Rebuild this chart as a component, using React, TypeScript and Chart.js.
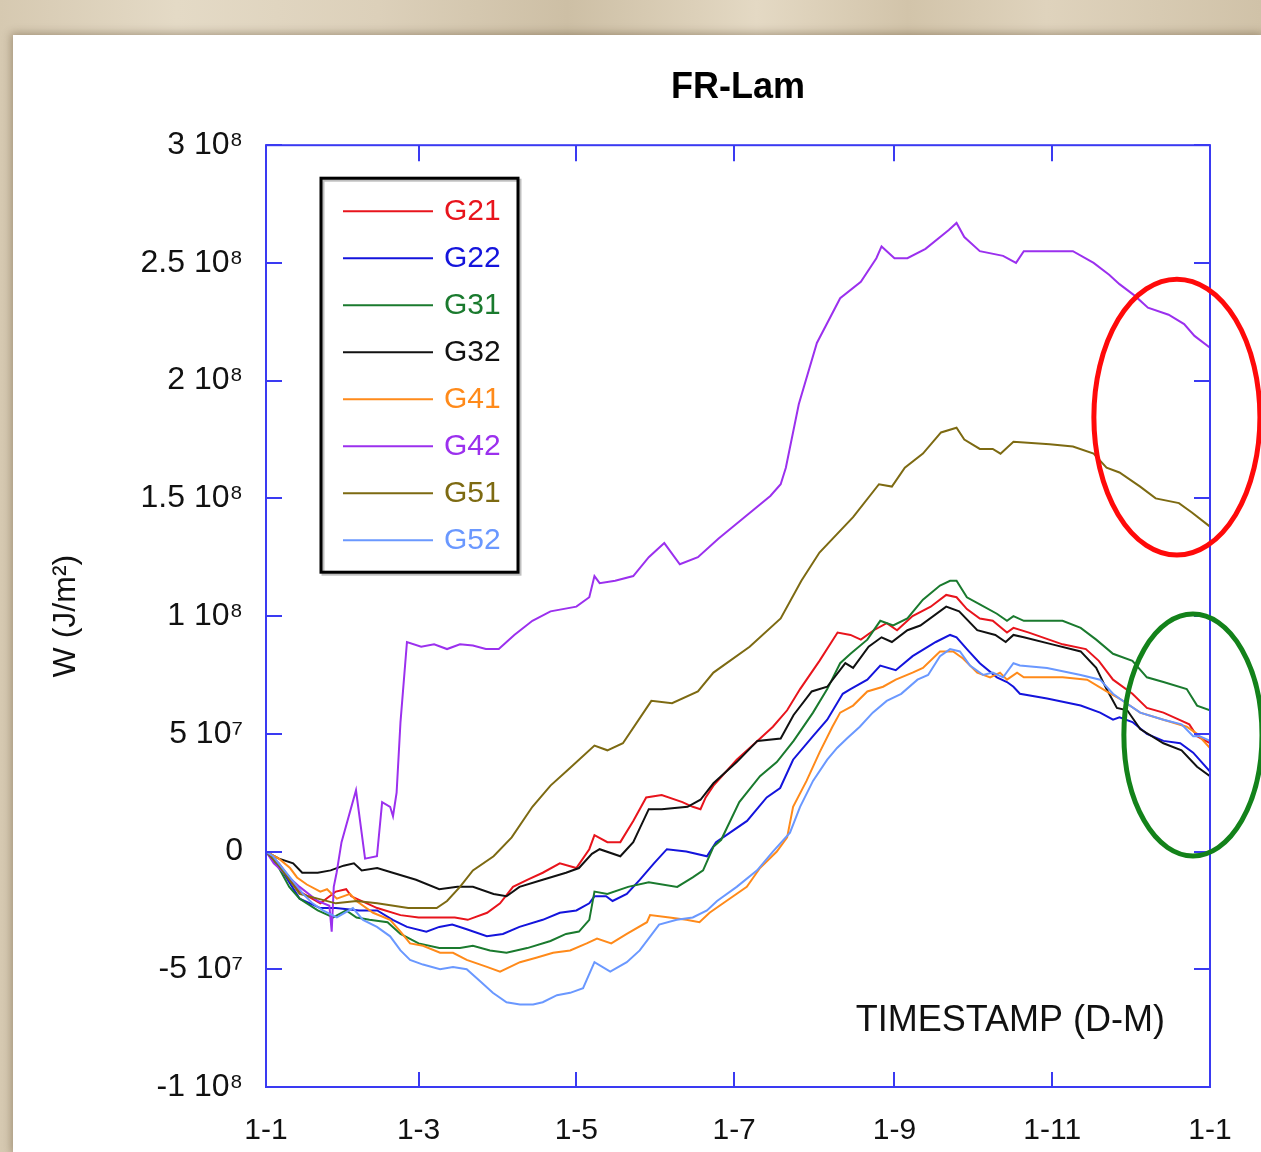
import React, { useEffect, useRef } from 'react';
import { Chart, registerables } from 'chart.js';

Chart.register(...registerables);

const FONT = '"Liberation Sans", Arial, Helvetica, sans-serif';

const chartTitle = 'FR-Lam';
const yAxisTitle = 'W (J/m²)';
const xAxisTitle = 'TIMESTAMP (D-M)';

const seriesNames = ['G21', 'G22', 'G31', 'G32', 'G41', 'G42', 'G51', 'G52'];
const seriesColors = ['#e8141c', '#1414dc', '#1a7a2e', '#111111', '#ff8a1a', '#9b30ee', '#7d6a12', '#6a98ff'];
const axisColor = '#3a3af2';

// x = day of year (0 = 1 January), y = W in units of 10^7 J/m²
const VALUE_UNIT = 1e7;

const G21: [number, number][] = [
  [0, 0], [5, -0.5], [9, -1.1], [13, -1.7], [21, -2.2], [27, -1.7], [31, -1.6], [33, -1.9], [43, -2.4], [52, -2.7],
  [59, -2.8], [66, -2.8], [73, -2.8], [78, -2.9], [85.5, -2.6], [90.5, -2.2], [95.5, -1.5], [101, -1.2], [107, -0.9],
  [113.6, -0.5], [120, -0.7], [125, 0.1], [127, 0.7], [132, 0.4], [137, 0.4], [142, 1.3], [147, 2.3], [153, 2.4],
  [161, 2.1], [165, 1.9], [168, 1.8], [170, 2.3], [173, 2.8], [182, 3.9], [190, 4.7], [196, 5.3], [201.5, 6.0],
  [206.5, 6.9], [214, 8.1], [221, 9.3], [226, 9.2], [230, 9.0], [235, 9.4], [240, 9.7], [244, 9.4], [250, 10.0],
  [257, 10.4], [263, 10.9], [267, 10.8], [271, 10.3], [276, 9.9], [281, 9.8], [286.5, 9.3], [289, 9.5], [295, 9.3],
  [308, 8.8], [317, 8.6], [322, 8.1], [327.5, 7.3], [335, 6.7], [340.6, 6.1], [347, 5.9], [353, 5.6], [357, 5.4],
  [360, 4.9], [365, 4.6],
];

const G22: [number, number][] = [
  [0, 0], [5, -0.6], [9, -1.3], [13, -2.0], [21, -2.4], [27, -2.4], [36, -2.5], [43, -2.5], [49, -2.9], [54.5, -3.2],
  [62, -3.4], [67, -3.2], [72, -3.1], [77.6, -3.3], [85.4, -3.6], [91.6, -3.5], [98, -3.2], [107, -2.9], [113.6, -2.6],
  [120, -2.5], [125, -2.2], [127, -1.9], [131.5, -1.9], [134, -2.1], [139.5, -1.8], [144.5, -1.2], [150, -0.5],
  [155, 0.1], [162.5, 0.0], [170.5, -0.2], [174, 0.4], [178, 0.7], [186, 1.3], [193.6, 2.3], [198.8, 2.7],
  [203.8, 3.9], [211.5, 4.9], [217, 5.6], [223, 6.7], [226, 6.9], [232.5, 7.3], [237.5, 7.9], [243.5, 7.7],
  [250, 8.3], [259, 8.9], [264.5, 9.2], [267, 9.1], [271, 8.6], [276, 8.0], [282.6, 7.4], [286.5, 7.2], [289, 7.0],
  [291.5, 6.7], [302, 6.5], [315, 6.2], [322.5, 5.9], [327.5, 5.6], [330, 5.7], [335, 5.5], [340.6, 5.0], [347, 4.7],
  [353.5, 4.6], [358.5, 4.2], [365, 3.4],
];

const G31: [number, number][] = [
  [0, 0], [5, -0.7], [9, -1.5], [13, -2.0], [20, -2.5], [26, -2.8], [31, -2.5], [35, -2.8], [40, -2.9], [47, -3.0],
  [52, -3.5], [59, -3.9], [67, -4.1], [75, -4.1], [80, -4.0], [86.6, -4.2], [93, -4.3], [101, -4.1], [110, -3.8],
  [116, -3.5], [121, -3.4], [125, -2.9], [127, -1.7], [132, -1.8], [140, -1.5], [148, -1.3], [159, -1.5], [165, -1.1],
  [169, -0.8], [173, 0.2], [176, 0.5], [183, 2.1], [191, 3.2], [197.5, 3.8], [204, 4.7], [211.5, 5.9], [217, 6.9],
  [222, 8.0], [226, 8.4], [232.5, 9.0], [237.5, 9.8], [242.5, 9.6], [248, 9.9], [254, 10.7], [260.6, 11.3],
  [264.5, 11.5], [267, 11.5], [271, 10.8], [276, 10.5], [282.6, 10.1], [286.5, 9.8], [289, 10.0], [293, 9.8],
  [308, 9.8], [315, 9.5], [321, 9.0], [327.5, 8.4], [335, 8.1], [340.6, 7.4], [347, 7.2], [356, 6.9], [360, 6.2],
  [365, 6.0],
];

const G32: [number, number][] = [
  [0, 0], [5, -0.3], [10.5, -0.5], [14, -0.9], [20, -0.9], [25, -0.8], [30, -0.6], [34, -0.5], [37, -0.8], [43, -0.7],
  [49, -0.9], [58, -1.2], [67, -1.6], [74, -1.5], [80, -1.5], [88, -1.8], [93, -1.9], [98, -1.5], [107, -1.2],
  [116, -0.9], [121, -0.7], [126, -0.1], [129, 0.1], [137, -0.2], [142, 0.4], [148, 1.8], [153, 1.8], [163, 1.9],
  [168, 2.2], [173, 2.9], [182, 3.8], [190, 4.7], [199, 4.8], [204, 5.8], [211, 6.8], [217, 7.0], [224, 8.0],
  [227, 7.8], [233, 8.7], [238, 9.1], [242, 8.9], [248, 9.4], [253, 9.6], [263, 10.4], [268, 10.2], [275, 9.4],
  [282, 9.2], [286, 8.9], [289, 9.2], [293, 9.1], [304, 8.8], [315, 8.5], [321, 7.8], [325, 6.9], [329, 6.1],
  [333, 6.0], [338, 5.2], [347, 4.6], [354, 4.3], [360, 3.6], [365, 3.2],
];

const G41: [number, number][] = [
  [0, 0], [5, -0.3], [9.3, -0.7], [12, -1.1], [15.8, -1.4], [21, -1.7], [23.6, -1.6], [27.4, -2.0], [32.5, -1.8],
  [35, -2.1], [41.4, -2.6], [48, -2.9], [52, -3.4], [55.7, -3.9], [60.7, -4.0], [67.3, -4.3], [72.3, -4.3],
  [77.6, -4.6], [85.4, -4.9], [90.5, -5.1], [98.2, -4.7], [104.8, -4.5], [111, -4.3], [117.6, -4.2], [124, -3.9],
  [128, -3.7], [133.5, -3.9], [139.5, -3.5], [147.3, -3.0], [148.5, -2.7], [156, -2.8], [162.5, -2.9], [167.6, -3.0],
  [171.5, -2.6], [178, -2.1], [185.9, -1.5], [191, -0.7], [197.5, 0.0], [201.5, 0.6], [203.8, 1.9], [209, 3.0],
  [214, 4.2], [219, 5.3], [222, 5.9], [227, 6.2], [232.5, 6.8], [238.6, 7.0], [243.5, 7.3], [250, 7.6], [254, 7.8],
  [260.6, 8.5], [265.7, 8.5], [269.5, 8.2], [275, 7.6], [280, 7.4], [283.8, 7.6], [286.5, 7.3], [290.4, 7.6],
  [293, 7.4], [308, 7.4], [317.5, 7.3], [325, 6.8], [330, 6.5], [338, 5.9], [347, 5.6], [356, 5.3], [360, 5.0],
  [365, 4.4],
];

const G42: [number, number][] = [
  [0, 0], [3, -0.5], [13, -1.5], [20, -2.1], [24.5, -2.3], [25.4, -3.4], [26.2, -1.5], [27.3, -0.9], [29.2, 0.4],
  [34.8, 2.6], [38.3, -0.3], [42.9, -0.2], [44.9, 2.1], [48, 1.9], [49.1, 1.5], [50.5, 2.5], [52, 5.5], [54.5, 8.9],
  [60, 8.7], [65, 8.8], [70, 8.6], [75, 8.8], [80, 8.75], [85, 8.6], [90, 8.6], [96, 9.2], [103, 9.8], [110, 10.2],
  [120, 10.4], [125, 10.8], [127, 11.7], [129, 11.4], [135, 11.5], [142, 11.7], [148, 12.5], [154, 13.1], [160, 12.2],
  [167, 12.5], [175, 13.3], [185, 14.2], [195, 15.1], [199, 15.6], [201, 16.3], [206, 19.0], [213, 21.6], [222, 23.5],
  [230, 24.2], [236, 25.2], [238, 25.7], [243, 25.2], [248, 25.2], [255, 25.6], [264, 26.4], [267, 26.7], [270, 26.1],
  [276, 25.5], [285, 25.3], [290, 25.0], [293, 25.5], [312, 25.5], [320, 25.0], [326, 24.5], [330, 24.1], [336, 23.6],
  [341, 23.1], [349, 22.8], [355, 22.4], [359, 21.9], [365, 21.4],
];

const G51: [number, number][] = [
  [0, 0], [5, -0.6], [13, -1.8], [20, -2.0], [27, -2.2], [35, -2.1], [43, -2.2], [55, -2.4], [66, -2.4], [70, -2.1],
  [75, -1.5], [80, -0.8], [88, -0.2], [95, 0.6], [103, 1.9], [110, 2.8], [117, 3.5], [127, 4.5], [132, 4.3],
  [138, 4.6], [149, 6.4], [157, 6.3], [167, 6.8], [173, 7.6], [187, 8.7], [199, 9.9], [207, 11.5], [214, 12.7],
  [227, 14.2], [237, 15.6], [242, 15.5], [247, 16.3], [254, 16.9], [261, 17.8], [267, 18.0], [270, 17.5], [276, 17.1],
  [281, 17.1], [284, 16.9], [289, 17.4], [303, 17.3], [312, 17.2], [320, 16.9], [325, 16.3], [330, 16.1], [338, 15.5],
  [344, 15.0], [353, 14.8], [358, 14.4], [365, 13.8],
];

const G52: [number, number][] = [
  [0, 0], [2.7, -0.2], [9.3, -1.1], [14.3, -1.8], [18, -2.2], [22, -2.5], [27.4, -2.8], [33.6, -2.4], [37.5, -2.9],
  [42.9, -3.2], [48, -3.6], [52, -4.2], [55.7, -4.6], [60.7, -4.8], [67.3, -5.0], [72.3, -4.9], [77.6, -5.0],
  [82.7, -5.5], [87.7, -6.0], [93, -6.4], [98.2, -6.5], [103.3, -6.5], [107, -6.4], [112.5, -6.1], [117.6, -6.0],
  [122.6, -5.8], [127, -4.7], [133.1, -5.1], [139.5, -4.7], [144.5, -4.2], [152, -3.1], [158.8, -2.9], [165, -2.8],
  [170.5, -2.5], [174.4, -2.1], [182, -1.5], [189.9, -0.8], [196, 0.0], [202.6, 0.8], [206.5, 1.9], [211.5, 3.0],
  [217, 3.9], [220.8, 4.4], [224.6, 4.8], [229.6, 5.3], [234.6, 5.9], [240, 6.4], [245.6, 6.7], [251.9, 7.3],
  [256, 7.5], [260.6, 8.3], [264.5, 8.6], [268.3, 8.5], [272.2, 7.9], [277.3, 7.5], [281, 7.6], [285, 7.4],
  [289, 8.0], [291.5, 7.9], [302, 7.8], [315, 7.5], [322.5, 7.3], [327.5, 6.7], [330, 6.5], [338, 5.9], [347, 5.6],
  [354, 5.4], [358.5, 4.9], [361, 4.9], [365, 4.7],
];

const allSeries = [G21, G22, G31, G32, G41, G42, G51, G52];

const monthTickDays = [0, 59, 120, 181, 243, 304, 365];
const monthTickLabels = ['1-1', '1-3', '1-5', '1-7', '1-9', '1-11', '1-1'];

const yTickValues = [-1e8, -5e7, 0, 5e7, 1e8, 1.5e8, 2e8, 2.5e8, 3e8];
const yTickLabels = ['-1 10⁸', '-5 10⁷', '0', '5 10⁷', '1 10⁸', '1.5 10⁸', '2 10⁸', '2.5 10⁸', '3 10⁸'];

// highlight ellipses: centre (day, W) and radii (days, W)
const ellipseCenterDays = [352.2, 358.4];
const ellipseCenterValues = [1.845e8, 4.95e7];
const ellipseRadiusDays = [32.1, 26.7];
const ellipseRadiusValues = [5.86e7, 5.14e7];
const ellipseColors = ['#ff0a0a', '#13821a'];

const decorPlugin = {
  id: 'decor',
  afterDraw(chart: any) {
    const { ctx, chartArea: a, scales } = chart;
    const x = scales.x;
    const y = scales.y;
    ctx.save();

    // frame
    ctx.strokeStyle = axisColor;
    ctx.lineWidth = 2;
    ctx.strokeRect(a.left, a.top, a.right - a.left, a.bottom - a.top);

    // inward ticks
    ctx.beginPath();
    monthTickDays.forEach((d) => {
      const px = Math.round(x.getPixelForValue(d));
      ctx.moveTo(px, a.bottom);
      ctx.lineTo(px, a.bottom - 15);
      ctx.moveTo(px, a.top);
      ctx.lineTo(px, a.top + 16);
    });
    yTickValues.forEach((v) => {
      const py = Math.round(y.getPixelForValue(v));
      ctx.moveTo(a.left, py);
      ctx.lineTo(a.left + 16, py);
      ctx.moveTo(a.right, py);
      ctx.lineTo(a.right - 16, py);
    });
    ctx.stroke();

    // x axis title inside the plot
    ctx.fillStyle = '#111';
    ctx.font = `36px ${FONT}`;
    ctx.textAlign = 'right';
    ctx.textBaseline = 'alphabetic';
    ctx.fillText(xAxisTitle, a.right - 45, a.bottom - 56);

    // legend box
    const lx = a.left + 55;
    const ly = a.top + 33;
    const lw = 197;
    const lh = 394;
    ctx.strokeStyle = 'rgba(0,0,0,0.25)';
    ctx.lineWidth = 3;
    ctx.strokeRect(lx + 2, ly + 2, lw, lh);
    ctx.strokeStyle = '#000';
    ctx.lineWidth = 3;
    ctx.strokeRect(lx, ly, lw, lh);
    ctx.font = `30px ${FONT}`;
    ctx.textAlign = 'left';
    ctx.textBaseline = 'middle';
    chart.data.datasets.forEach((ds: any, i: number) => {
      const ry = ly + 33 + i * 47;
      ctx.strokeStyle = ds.borderColor;
      ctx.lineWidth = 2;
      ctx.beginPath();
      ctx.moveTo(lx + 22, ry);
      ctx.lineTo(lx + 112, ry);
      ctx.stroke();
      ctx.fillStyle = ds.borderColor;
      ctx.fillText(ds.label, lx + 123, ry + 1);
    });

    // highlight ellipses
    ellipseCenterDays.forEach((cd, i) => {
      const cx = x.getPixelForValue(cd);
      const cy = y.getPixelForValue(ellipseCenterValues[i]);
      const rx = x.getPixelForValue(cd + ellipseRadiusDays[i]) - cx;
      const ry = cy - y.getPixelForValue(ellipseCenterValues[i] + ellipseRadiusValues[i]);
      ctx.strokeStyle = ellipseColors[i];
      ctx.lineWidth = 5;
      ctx.beginPath();
      ctx.ellipse(cx, cy, rx, ry, 0, 0, Math.PI * 2);
      ctx.stroke();
    });

    ctx.restore();
  },
};

export default function App() {
  const ref = useRef<HTMLCanvasElement>(null);

  useEffect(() => {
    document.body.style.margin = '0';
    const canvas = ref.current;
    if (!canvas) return;
    const chart = new Chart(canvas, {
      type: 'line',
      data: {
        datasets: allSeries.map((s, i) => ({
          label: seriesNames[i],
          data: s.map(([d, v]) => ({ x: d, y: v * VALUE_UNIT })),
          borderColor: seriesColors[i],
          backgroundColor: seriesColors[i],
          borderWidth: 2,
          pointRadius: 0,
          tension: 0,
          fill: false,
          order: allSeries.length - i,
        })),
      },
      options: {
        responsive: false,
        animation: false,
        devicePixelRatio: 1,
        layout: { padding: { left: 0, right: 51, top: 0, bottom: 0 } },
        plugins: {
          legend: { display: false },
          tooltip: { enabled: false },
          title: {
            display: true,
            text: chartTitle,
            fullSize: false,
            color: '#000',
            font: { family: FONT, size: 36, weight: 'bold', lineHeight: 1.2 },
            padding: { top: 66, bottom: 36 },
          },
        },
        scales: {
          x: {
            type: 'linear',
            min: 0,
            max: 365,
            grid: { display: false, drawTicks: false },
            border: { display: false },
            afterBuildTicks: (s: any) => {
              s.ticks = monthTickDays.map((v) => ({ value: v }));
            },
            afterFit: (s: any) => {
              s.height = 65;
            },
            ticks: {
              autoSkip: false,
              maxRotation: 0,
              padding: 26,
              color: '#111',
              font: { family: FONT, size: 30 },
              callback: (_v: any, i: number) => monthTickLabels[i],
            },
          },
          y: {
            type: 'linear',
            min: -1e8,
            max: 3e8,
            grid: { display: false, drawTicks: false },
            border: { display: false },
            afterBuildTicks: (s: any) => {
              s.ticks = yTickValues.map((v) => ({ value: v }));
            },
            afterFit: (s: any) => {
              s.width = 266;
            },
            ticks: {
              autoSkip: false,
              padding: 23,
              color: '#111',
              font: { family: FONT, size: 32 },
              callback: (_v: any, i: number) => yTickLabels[i],
            },
            title: {
              display: true,
              text: yAxisTitle,
              color: '#111',
              font: { family: FONT, size: 32, lineHeight: 1.2 },
              padding: { top: 47, bottom: 0 },
            },
          },
        },
      } as any,
      plugins: [decorPlugin],
    });
    return () => chart.destroy();
  }, []);

  return (
    <div
      style={{
        position: 'relative',
        width: 1261,
        height: 1152,
        overflow: 'hidden',
        background:
          'linear-gradient(90deg, #d6c9b1 0%, #e4dac6 14%, #dcd0ba 30%, #cdbfa5 45%, #dcd0b9 55%, #e4d9c4 60%, #d2c4aa 72%, #dfd3bd 83%, #d0c2a8 100%)',
      }}
    >
      <div
        style={{
          position: 'absolute',
          left: 13,
          top: 35,
          right: 0,
          bottom: 0,
          background: '#ffffff',
          boxShadow: '0 0 8px 2px rgba(70,50,20,0.35)',
        }}
      />
      <canvas ref={ref} width={1261} height={1152} style={{ position: 'absolute', left: 0, top: 0 }} />
    </div>
  );
}
